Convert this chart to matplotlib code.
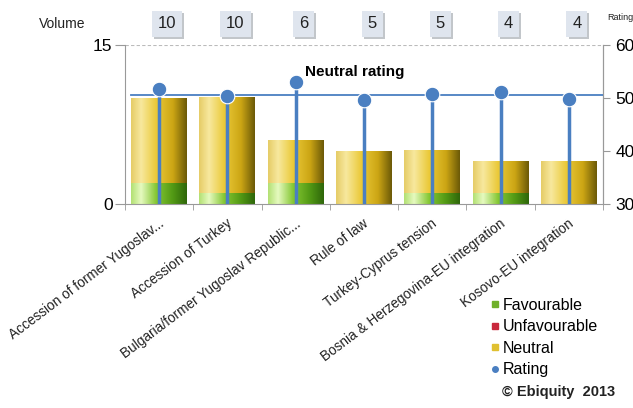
import numpy as np
import matplotlib
matplotlib.use("Agg")
import matplotlib.pyplot as plt
import matplotlib.patheffects as pe
from matplotlib.colors import LinearSegmentedColormap
from matplotlib.lines import Line2D
from matplotlib.transforms import ScaledTranslation

plt.rcParams['font.family'] = ['Liberation Sans', 'DejaVu Sans']

categories = ["Accession of former Yugoslav...", "Accession of Turkey",
              "Bulgaria/former Yugoslav Republic...", "Rule of law",
              "Turkey-Cyprus tension", "Bosnia & Herzegovina-EU integration",
              "Kosovo-EU integration"]
volume = [10, 10, 6, 5, 5, 4, 4]
favourable = [2, 1, 2, 0, 1, 1, 0]
unfavourable = [0, 0, 0, 0, 0, 0, 0]
neutral = [8, 9, 4, 5, 4, 3, 4]
rating = [51.7, 50.3, 53.0, 49.7, 50.8, 51.1, 49.8]
neutral_rating = 50.6

blue = '#4a7fc1'
yellow_cm = LinearSegmentedColormap.from_list('y', [
    (0.0, (0.90, 0.80, 0.40)), (0.18, (0.97, 0.91, 0.62)), (0.45, (0.92, 0.79, 0.22)),
    (0.75, (0.80, 0.65, 0.08)), (1.0, (0.42, 0.35, 0.03))])
green_cm = LinearSegmentedColormap.from_list('g', [
    (0.0, (0.70, 0.88, 0.45)), (0.18, (0.90, 0.98, 0.75)), (0.45, (0.52, 0.78, 0.20)),
    (0.75, (0.32, 0.60, 0.08)), (1.0, (0.18, 0.40, 0.04))])
red_cm = LinearSegmentedColormap.from_list('r', ['#e87080', '#c8283c', '#701018'])

fig = plt.figure(figsize=(6.33, 4.08), dpi=100)
ax = fig.add_axes([125 / 633, 1 - 204 / 408, 478 / 633, 159 / 408])
x = np.arange(len(categories))
w = 0.82
grad = np.linspace(0, 1, 256).reshape(1, -1)

bottom = np.zeros(len(categories))
for vals, cm in [(favourable, green_cm), (unfavourable, red_cm), (neutral, yellow_cm)]:
    for i, v in enumerate(vals):
        if v > 0:
            ax.imshow(grad, cmap=cm, aspect='auto', interpolation='bilinear',
                      extent=(x[i] - w / 2, x[i] + w / 2, bottom[i], bottom[i] + v), zorder=2)
    bottom += np.array(vals)

ax.set_xlim(-0.5, len(categories) - 0.5)
ax.set_ylim(0, 15)
ax.set_yticks([0, 15])
ax.axhline(15, color='#bbbbbb', lw=0.8, ls=(0, (3, 2)), zorder=1)
for s in ['left', 'right', 'bottom']:
    ax.spines[s].set_color('#999999')
ax.spines['top'].set_visible(False)
ax.tick_params(axis='y', labelsize=12.5, length=7, color='#999999', pad=2)
ax.set_xticks(x)
ax.set_xticklabels(categories, rotation=37, ha='right', va='center',
                   rotation_mode='anchor', fontsize=9.8, color='#222222')
ax.tick_params(axis='x', length=0, pad=13)
ax.set_xticks(np.arange(len(categories) + 1) - 0.5, minor=True)
ax.tick_params(axis='x', which='minor', length=4, color='#999999')
for lab in ax.get_xticklabels():
    lab.set_transform(lab.get_transform() + ScaledTranslation(0.03, 0, fig.dpi_scale_trans))

ax2 = ax.twinx()
ax2.set_ylim(30, 60)
ax2.set_yticks([30, 40, 50, 60])
ax2.tick_params(axis='y', labelsize=12.5, length=5, color='#999999', pad=4)
for s in ax2.spines.values():
    s.set_visible(False)
ax2.spines['right'].set_visible(True)
ax2.spines['right'].set_color('#999999')
ax2.plot([-w / 2, len(categories) - 0.5], [neutral_rating, neutral_rating],
         color=blue, lw=1.3, zorder=3)
ax2.vlines(x, 30, rating, color=blue, lw=2.5, zorder=4)
ax2.plot(x, rating, 'o', color=blue, ms=10.5, mec='white', mew=0.8, zorder=5)
ax2.text(2.14, 54.9, "Neutral rating", fontsize=11, fontweight='bold', va='center')

# volume boxes on top
for i, v in enumerate(volume):
    t = fig.text((125 + 68.3 * (i + 0.5) + 8) / 633, 1 - 24 / 408, str(v), fontsize=12,
                 ha='center', va='center', color='#222222',
                 bbox=dict(boxstyle='square,pad=0.35', fc='#dfe5ee', ec='none'))
    t.get_bbox_patch().set_path_effects([pe.SimplePatchShadow(offset=(1.5, -1.5),
                                                              shadow_rgbFace='#9aa0a8', alpha=0.6),
                                         pe.Normal()])
fig.text(62 / 633, 1 - 24 / 408, "Volume", fontsize=10, ha='center', va='center', color='#222222')
fig.text(607 / 633, 1 - 18 / 408, "Rating", fontsize=6.5, ha='left', va='center', color='#222222')

handles = [Line2D([], [], ls='none', marker='s', ms=5, color='#6fb02a'),
           Line2D([], [], ls='none', marker='s', ms=5, color='#c8283c'),
           Line2D([], [], ls='none', marker='s', ms=5, color='#e0c030'),
           Line2D([], [], ls='none', marker='o', ms=4, color=blue)]
fig.legend(handles, ["Favourable", "Unfavourable", "Neutral", "Rating"],
           loc='upper left', bbox_to_anchor=(490 / 633, 1 - 298 / 408), frameon=False,
           fontsize=11.5, handlelength=0.6, handletextpad=0.2, labelspacing=0.4,
           borderpad=0, borderaxespad=0)
fig.text(502 / 633, 1 - 392 / 408, "© Ebiquity  2013", fontsize=10.5, fontweight='bold',
         ha='left', va='center', color='#222222')

fig.savefig("out.png", dpi=100)
